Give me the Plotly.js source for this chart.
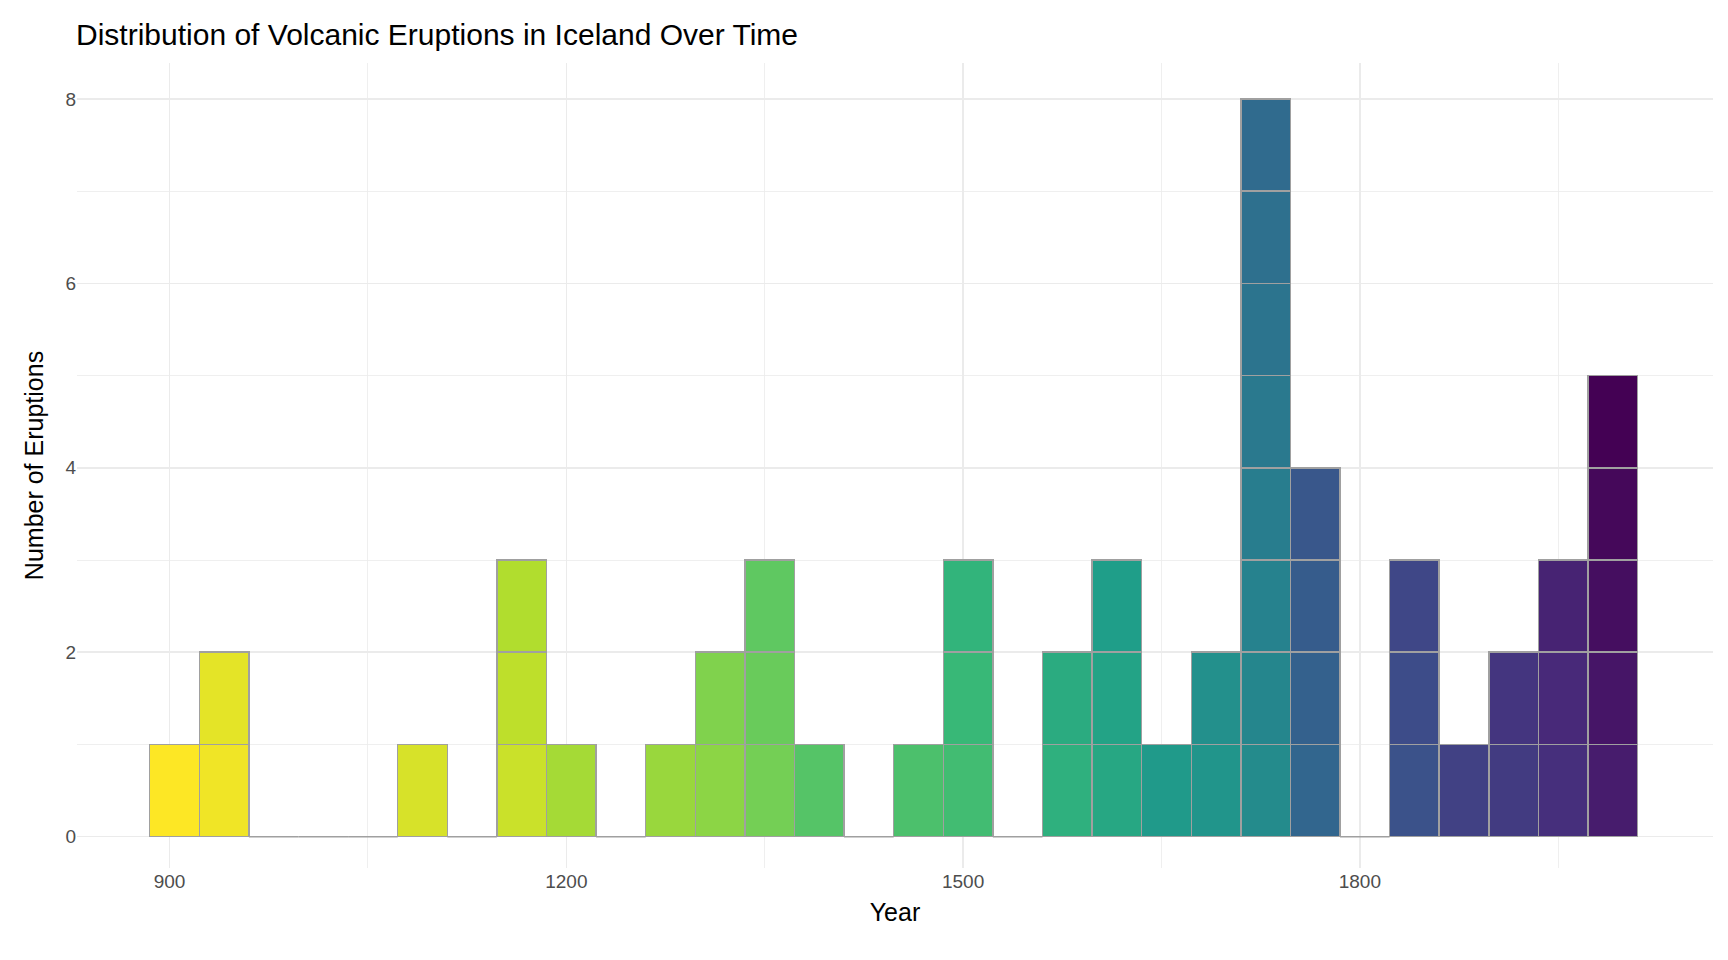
<!DOCTYPE html>
<html><head><meta charset="utf-8">
<script src="https://cdn.plot.ly/plotly-3.0.1.min.js"></script>
<style>body{margin:0;background:#fff}#c{width:1728px;height:960px}</style>
</head><body><div id="c"></div>
<script>
const binStart = 885;
const binWidth = 37.5;
const counts = [1,2,0,0,0,1,0,3,1,0,1,2,3,1,0,1,3,0,2,3,1,2,8,4,0,3,1,2,3,5];
const xTicks = [900,1200,1500,1800];
const yTicks = [0,2,4,6,8];

const vir = [[68,1,84],[72,40,120],[62,74,137],[49,104,142],[38,130,142],[31,158,137],[53,183,121],[109,205,89],[180,222,44],[253,231,37]];
function viridis(t){t=Math.max(0,Math.min(1,t));const s=t*(vir.length-1);const i=Math.min(Math.floor(s),vir.length-2);const f=s-i;
 const c=vir[i].map((v,k)=>Math.round(v+(vir[i+1][k]-v)*f));return `rgb(${c[0]},${c[1]},${c[2]})`;}

const n = counts.length, maxC = Math.max(...counts);
const total = counts.reduce((a,b)=>a+b,0);
const before = []; let acc=0; counts.forEach(c=>{before.push(acc); acc+=c;});
const centers = counts.map((_,i)=>binStart+binWidth*(i+0.5));
const traces = [];
for(let lv=0; lv<maxC; lv++){
  const xs=[], ys=[], cols=[];
  counts.forEach((c,i)=>{ if(c>lv){ xs.push(centers[i]); ys.push(1);
    const t = 1-(before[i]+lv)/(total-1); cols.push(viridis(t)); }});
  traces.push({type:'bar', x:xs, y:ys, width:binWidth, marker:{color:cols, line:{color:'#a0a0a0', width:1.5}}, hoverinfo:'skip', showlegend:false});
}
const shapes = [];
counts.forEach((c,i)=>{ if(c===0) shapes.push({type:'line', xref:'x', yref:'y', x0:binStart+binWidth*i, x1:binStart+binWidth*(i+1), y0:0, y1:0, line:{color:'#a0a0a0', width:1.5}}); });

Plotly.newPlot('c', traces, {
  barmode:'stack', bargap:0, width:1728, height:960,
  paper_bgcolor:'#fff', plot_bgcolor:'#fff',
  margin:{l:77, r:15, t:63, b:92},
  font:{family:'Liberation Sans, Arial, sans-serif', color:'#000'},
  title:{text:'Distribution of Volcanic Eruptions in Iceland Over Time', x:0.044, xanchor:'left', y:0.975, font:{size:30, color:'#000'}},
  xaxis:{range:[830,2067], tickvals:xTicks, ticks:'', showline:false, zeroline:false,
    gridcolor:'#ebebeb', gridwidth:1.5, minor:{dtick:150, tick0:750, showgrid:true, gridcolor:'#ebebeb', gridwidth:0.8},
    tickfont:{size:19, color:'#4d4d4d'}, title:{text:'Year', font:{size:25}, standoff:12}},
  yaxis:{range:[-0.34,8.39], tickvals:yTicks, ticks:'', showline:false, zeroline:false,
    gridcolor:'#ebebeb', gridwidth:1.5, minor:{dtick:1, showgrid:true, gridcolor:'#ebebeb', gridwidth:0.8},
    tickfont:{size:19, color:'#4d4d4d'}, title:{text:'Number of Eruptions', font:{size:25}, standoff:14}},
  shapes:shapes
}, {displayModeBar:false, staticPlot:true});
</script></body></html>
